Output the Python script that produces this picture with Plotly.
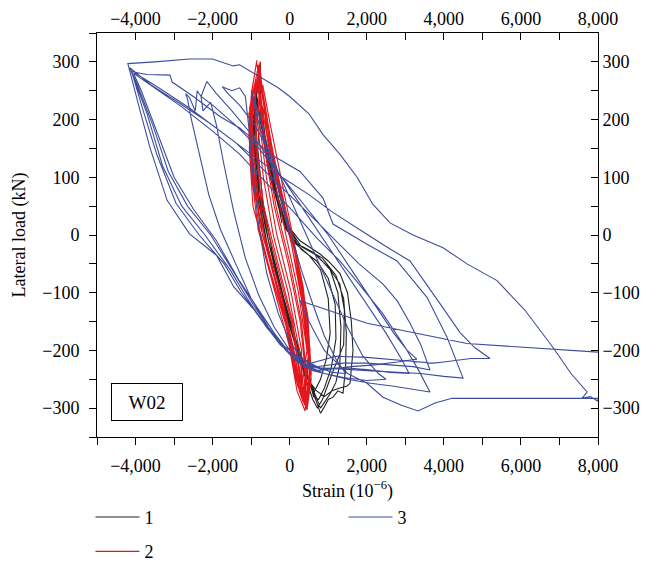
import plotly.graph_objects as go

# ---------------- data (strain 10^-6, lateral load kN) ----------------
# series 1 (black)
s1_points = [
    (-200, 20), (-500, 120), (-780, 200), (-830, 150), (-700, 60), (-450, -30), (-150, -110), (150, -180), (400, -230),
    (550, -260), (650, -270), (800, -250), (950, -215), (1050, -170), (1000, -110), (800, -60), (500, -35), (150, -15),
    (-250, 40), (-550, 110),
    (-850, 240), (-900, 180), (-780, 80), (-550, -10), (-250, -90), (50, -160), (300, -215), (500, -250), (620, -280),
    (750, -285), (900, -265), (1080, -230), (1200, -180), (1180, -120), (1000, -75), (700, -45), (300, -25), (-100, 10),
    (-450, 90), (-700, 170),
    (-800, 270), (-920, 210), (-850, 110), (-650, 20), (-350, -70), (-50, -140), (250, -200), (480, -245), (650, -275),
    (800, -300), (900, -290), (1050, -275), (1200, -255), (1300, -225), (1330, -160), (1250, -100), (1050, -60),
    (700, -35), (300, -20), (-150, 25), (-500, 120), (-750, 210),
    (-760, 300), (-880, 240), (-950, 160), (-820, 60), (-550, -30), (-250, -110), (100, -180), (350, -230), (550, -262),
    (700, -290), (800, -309), (880, -300), (1000, -285), (1124, -281), (1250, -270), (1384, -274), (1450, -230),
    (1470, -170), (1400, -110), (1200, -70), (850, -40), (450, -25), (50, -10), (-300, 50), (-600, 150), (-780, 250),
    (-820, 260), (-950, 200), (-880, 90), (-600, -10), (-300, -100), (50, -170), (300, -225), (520, -255), (700, -270),
    (900, -280), (1100, -270), (1300, -265), (1480, -262), (1565, -257), (1620, -220), (1643, -200), (1600, -150),
    (1500, -100), (1306, -67), (1000, -45), (787, -33), (500, -20), (268, -10), (-100, 20), (-450, 100), (-700, 180),
    (-860, 230), (-930, 170), (-800, 70), (-520, -20), (-200, -110), (150, -190), (420, -250), (600, -285), (720, -300),
    (850, -285), (980, -260), (1100, -240), (1250, -215), (1400, -190), (1420, -130), (1300, -85), (1000, -55),
    (600, -30), (200, -15), (-200, 35), (-520, 130), (-720, 200)]

# series 2 (red)
s2_points = [
    (-848, 303), (-985, 250), (-1047, 150), (-954, 50), (-556, -50), (-117, -150), (162, -250), (450, -303),
    (558, -250), (467, -150), (226, -50), (-126, 50), (-453, 150), (-715, 250),
    (-790, 285), (-976, 200), (-882, 100), (-662, 0), (-228, -100), (112, -200), (300, -270),
    (448, -200), (228, -100), (-98, 0), (-408, 100), (-664, 200),
    (-820, 270), (-895, 250), (-849, 150), (-678, 50), (-295, -50), (77, -150), (294, -250), (420, -300),
    (426, -250), (272, -150), (-35, -50), (-402, 50), (-651, 150), (-805, 250),
    (-760, 300), (-1002, 200), (-922, 100), (-709, 0), (-266, -100), (84, -200), (250, -270), (350, -290),
    (504, -200), (304, -100), (-4, 0), (-329, 100), (-612, 200),
    (-870, 260), (-910, 250), (-882, 150), (-724, 50), (-339, -50), (45, -150), (272, -250), (380, -295),
    (448, -250), (305, -150), (9, -50), (-356, 50), (-618, 150), (-790, 250),
    (-780, 250), (-846, 200), (-684, 100), (-427, 0), (-38, -100), (252, -200), (330, -260),
    (308, -200), (38, -100), (-333, 0), (-605, 100), (-794, 200),
    (-810, 295), (-990, 230), (-1020, 130), (-860, 30), (-480, -70), (-40, -170), (200, -260), (440, -300),
    (540, -230), (420, -130), (150, -30), (-220, 70), (-520, 170), (-760, 260),
    (-850, 280), (-1040, 220), (-960, 120), (-780, 20), (-380, -80), (20, -180), (230, -260), (380, -285),
    (500, -220), (330, -120), (60, -20), (-300, 80), (-600, 180),
    (-770, 290), (-960, 240), (-980, 140), (-800, 40), (-460, -60), (-60, -160), (180, -240), (460, -298),
    (560, -240), (470, -140), (180, -40), (-200, 60), (-470, 160), (-700, 240),
    (-800, 265), (-1060, 210), (-1000, 110), (-820, 10), (-420, -90), (-20, -190), (190, -270), (400, -305),
    (520, -230), (400, -130), (130, -30), (-240, 70), (-540, 170), (-740, 250),
    (-860, 300), (-1000, 240), (-1060, 170), (-900, 70), (-560, -30), (-180, -130), (120, -230), (320, -280),
    (480, -210), (300, -110), (30, -10), (-280, 90), (-580, 190), (-760, 270),
    (-790, 275), (-940, 230), (-1010, 160), (-870, 60), (-520, -40), (-90, -150), (210, -245), (360, -275),
    (530, -200), (350, -90), (40, 10), (-260, 110), (-500, 190), (-700, 260)]

# series 3 (blue)
s3_points = [
    (0, 0), (-300, 80), (-600, 160), (-850, 220), (-1000, 250),
    (-850, 205), (-600, 150), (-300, 80), (0, 10), (300, -60), (600, -120), (900, -175), (1200, -215), (1450, -240),
    (1100, -238), (700, -228), (300, -212), (0, -185), (-300, -135), (-600, -65), (-800, 15), (-950, 100), (-1050, 180),
    (-1150, 240),
    (-1300, 255), (-1500, 250), (-1750, 257),
    (-1600, 245), (-1300, 225), (-900, 190), (-500, 140), (-100, 80), (300, 20), (700, -40), (1100, -100), (1500, -160),
    (1900, -210), (2300, -240), (2500, -250),
    (2000, -252), (1400, -247), (900, -240), (400, -225), (0, -200), (-400, -160), (-800, -105), (-1150, -40),
    (-1450, 40), (-1700, 120), (-1900, 190), (-2050, 230), (-2250, 215), (-2300, 240), (-2150, 266),
    (-1900, 245), (-1500, 215), (-1000, 175), (-500, 130), (0, 80), (500, 30), (1000, -20), (1500, -70), (2000, -120),
    (2500, -170), (2900, -215), (3100, -240),
    (2600, -238), (2000, -233), (1400, -230), (800, -232), (300, -222), (-100, -200), (-550, -160), (-1000, -110),
    (-1400, -50), (-1800, 10), (-2100, 70), (-2350, 140), (-2550, 200), (-2650, 235), (-2700, 245),
    (-2600, 238), (-2450, 215), (-2400, 250), (-2300, 240),
    (-2000, 225), (-1400, 190), (-800, 150), (-200, 100), (400, 50), (1000, 0), (1600, -60), (2200, -120), (2700, -170),
    (3050, -200), (3300, -215),
    (2800, -220), (2200, -225), (1600, -228), (1100, -232), (700, -235),
    (300, -225), (0, -205), (-400, -170), (-850, -125), (-1300, -80), (-1900, -10), (-2500, 45), (-3000, 100),
    (-3450, 180), (-3850, 250), (-4050, 280),
    (-3500, 255), (-2800, 222), (-2000, 180), (-1300, 140), (-600, 90), (100, 40), (700, -5), (1300, -45), (1800, -85),
    (2400, -135), (3000, -195), (3350, -235), (3640, -272),
    (3300, -268), (2700, -262), (2100, -257), (1500, -250), (900, -240), (600, -235),
    (200, -220), (-100, -200), (-500, -165), (-950, -120), (-1400, -70), (-2050, 0), (-2650, 50), (-3150, 110),
    (-3550, 190), (-3950, 260), (-4150, 290),
    (-3600, 260), (-2900, 230), (-2100, 195), (-1400, 160), (-700, 115), (0, 70), (600, 30), (1200, -10), (1800, -50),
    (2422, -85), (2800, -115), (3122, -153), (3400, -190), (3640, -234),
    (3200, -228), (2600, -225), (2000, -222), (1400, -222), (800, -228), (500, -230),
    (150, -215), (-150, -195), (-600, -160), (-1100, -110), (-1550, -60), (-2200, 0), (-2800, 50), (-3300, 120),
    (-3700, 210), (-4120, 285),
    (-3400, 255), (-2600, 220), (-1800, 180), (-1000, 140), (-200, 100), (500, 70), (1100, 40), (1800, 10), (2500, -20),
    (3122, -45), (3500, -80), (3900, -119), (4420, -169), (4800, -195), (5198, -214),
    (4700, -214), (4000, -220), (3720, -222), (3000, -218), (2000, -212), (1200, -210), (700, -220), (400, -225),
    (100, -210), (-250, -190), (-700, -150), (-1250, -100), (-1700, -50), (-2350, 0), (-2950, 55), (-3450, 140),
    (-3800, 215), (-4100, 283),
    (-3700, 278), (-3300, 277), (-3106, 277), (-3050, 265), (-2500, 240), (-1800, 205), (-1289, 185), (-500, 140),
    (268, 110), (865, 64), (1124, 19), (2006, -16), (2785, -45), (3563, -108), (4082, -177), (4498, -248),
    (4000, -245), (3400, -240), (2700, -238), (2000, -235), (1300, -232), (700, -230), (300, -215),
    (0, -200), (-330, -183), (-850, -135), (-1450, -90), (-1900, -35), (-2600, 2), (-3180, 60), (-3620, 150),
    (-3900, 220), (-4200, 297),
    (-3500, 300), (-2600, 305), (-2000, 305), (-1800, 300), (-1470, 293), (-1300, 295), (-850, 277), (-300, 255),
    (0, 240), (500, 210), (865, 174), (1300, 140), (1750, 100), (2160, 53), (2603, 21), (3200, 0), (3979, -22),
    (4600, -50), (5380, -79), (6100, -130), (6833, -195), (7300, -240), (7716, -272),
    (7586, -283), (7800, -280), (8000, -288), (8000, -283), (7600, -283), (6000, -283), (4212, -283), (3771, -291),
    (3330, -305), (2900, -295), (2422, -281), (2006, -257), (1500, -240), (900, -200), (500, -150), (268, -114),
    (2006, -153), (4600, -188), (7975, -202), (8000, -203)]

series_names = ["1", "2", "3"]
series_colors = ["#222222", "#e3161d", "#3e4c9c"]

x_tickvals = [-5000, -4000, -3000, -2000, -1000, 0, 1000, 2000, 3000, 4000, 5000, 6000, 7000, 8000]
x_ticktext = ["", "\u22124,000", "", "\u22122,000", "", "0", "", "2,000", "", "4,000", "", "6,000", "", "8,000"]
y_tickvals = [-350, -300, -250, -200, -150, -100, -50, 0, 50, 100, 150, 200, 250, 300, 350]
y_ticktext = ["", "\u2212300", "", "\u2212200", "", "\u2212100", "", "0", "", "100", "", "200", "", "300", ""]

FONT = "Liberation Serif"

def xs(pts):
    return [p[0] for p in pts]

def ys(pts):
    return [p[1] for p in pts]

fig = go.Figure()
fig.add_trace(go.Scatter(x=xs(s1_points), y=ys(s1_points), mode="lines", name=series_names[0],
                         line=dict(color=series_colors[0], width=1.1), legend="legend", legendgroup="a"))
fig.add_trace(go.Scatter(x=xs(s2_points), y=ys(s2_points), mode="lines", name=series_names[1],
                         line=dict(color=series_colors[1], width=1.1), legend="legend", legendgroup="b"))
fig.add_trace(go.Scatter(x=xs(s3_points), y=ys(s3_points), mode="lines", name=series_names[2],
                         xaxis="x2", yaxis="y2",
                         line=dict(color=series_colors[2], width=1.1), legend="legend2", legendgroup="c"))

axis_common = dict(showline=True, linecolor="black", linewidth=1, showgrid=False, zeroline=False,
                   ticklen=7, tickwidth=1, tickcolor="black", tickfont=dict(family=FONT, size=18, color="black"),
                   automargin=False)

fig.update_layout(
    width=642, height=564,
    margin=dict(l=89, r=52, t=25, b=135, autoexpand=False),
    paper_bgcolor="white", plot_bgcolor="white",
    font=dict(family=FONT, size=18, color="black"),
    xaxis=dict(range=[-5000, 8000], tickmode="array", tickvals=x_tickvals, ticktext=x_ticktext,
               ticks="outside", ticklabelstandoff=5,
               title=dict(text="Strain (10<sup>\u22126</sup>)", standoff=9, font=dict(family=FONT, size=18)),
               **axis_common),
    xaxis2=dict(range=[-5000, 8000], overlaying="x", side="top", anchor="y", tickmode="array",
                tickvals=x_tickvals, ticktext=x_ticktext, ticks="inside", ticklabelstandoff=0, **axis_common),
    yaxis=dict(range=[-350, 350], tickmode="array", tickvals=y_tickvals, ticktext=y_ticktext,
               ticks="outside", ticklabelstandoff=6,
               title=dict(text="Lateral load (kN)", standoff=11, font=dict(family=FONT, size=18)),
               **axis_common),
    yaxis2=dict(range=[-350, 350], overlaying="y", side="right", anchor="x", tickmode="array",
                tickvals=y_tickvals, ticktext=y_ticktext, ticks="inside", ticklabelstandoff=0, **axis_common),
    legend=dict(x=-0.013, y=-0.153, xanchor="left", yanchor="top", orientation="v", itemwidth=44,
                tracegroupgap=8, font=dict(family=FONT, size=18), bgcolor="rgba(0,0,0,0)"),
    legend2=dict(x=0.492, y=-0.153, xanchor="left", yanchor="top", orientation="v", itemwidth=44,
                 font=dict(family=FONT, size=18), bgcolor="rgba(0,0,0,0)"),
    showlegend=True,
)

fig.add_annotation(x=-3690, y=-290, xref="x", yref="y", text="W02", showarrow=False,
                   font=dict(family=FONT, size=19, color="black"),
                   bordercolor="black", borderwidth=1, borderpad=3, width=64, height=30,
                   bgcolor="white")

fig.write_html("out.html")
